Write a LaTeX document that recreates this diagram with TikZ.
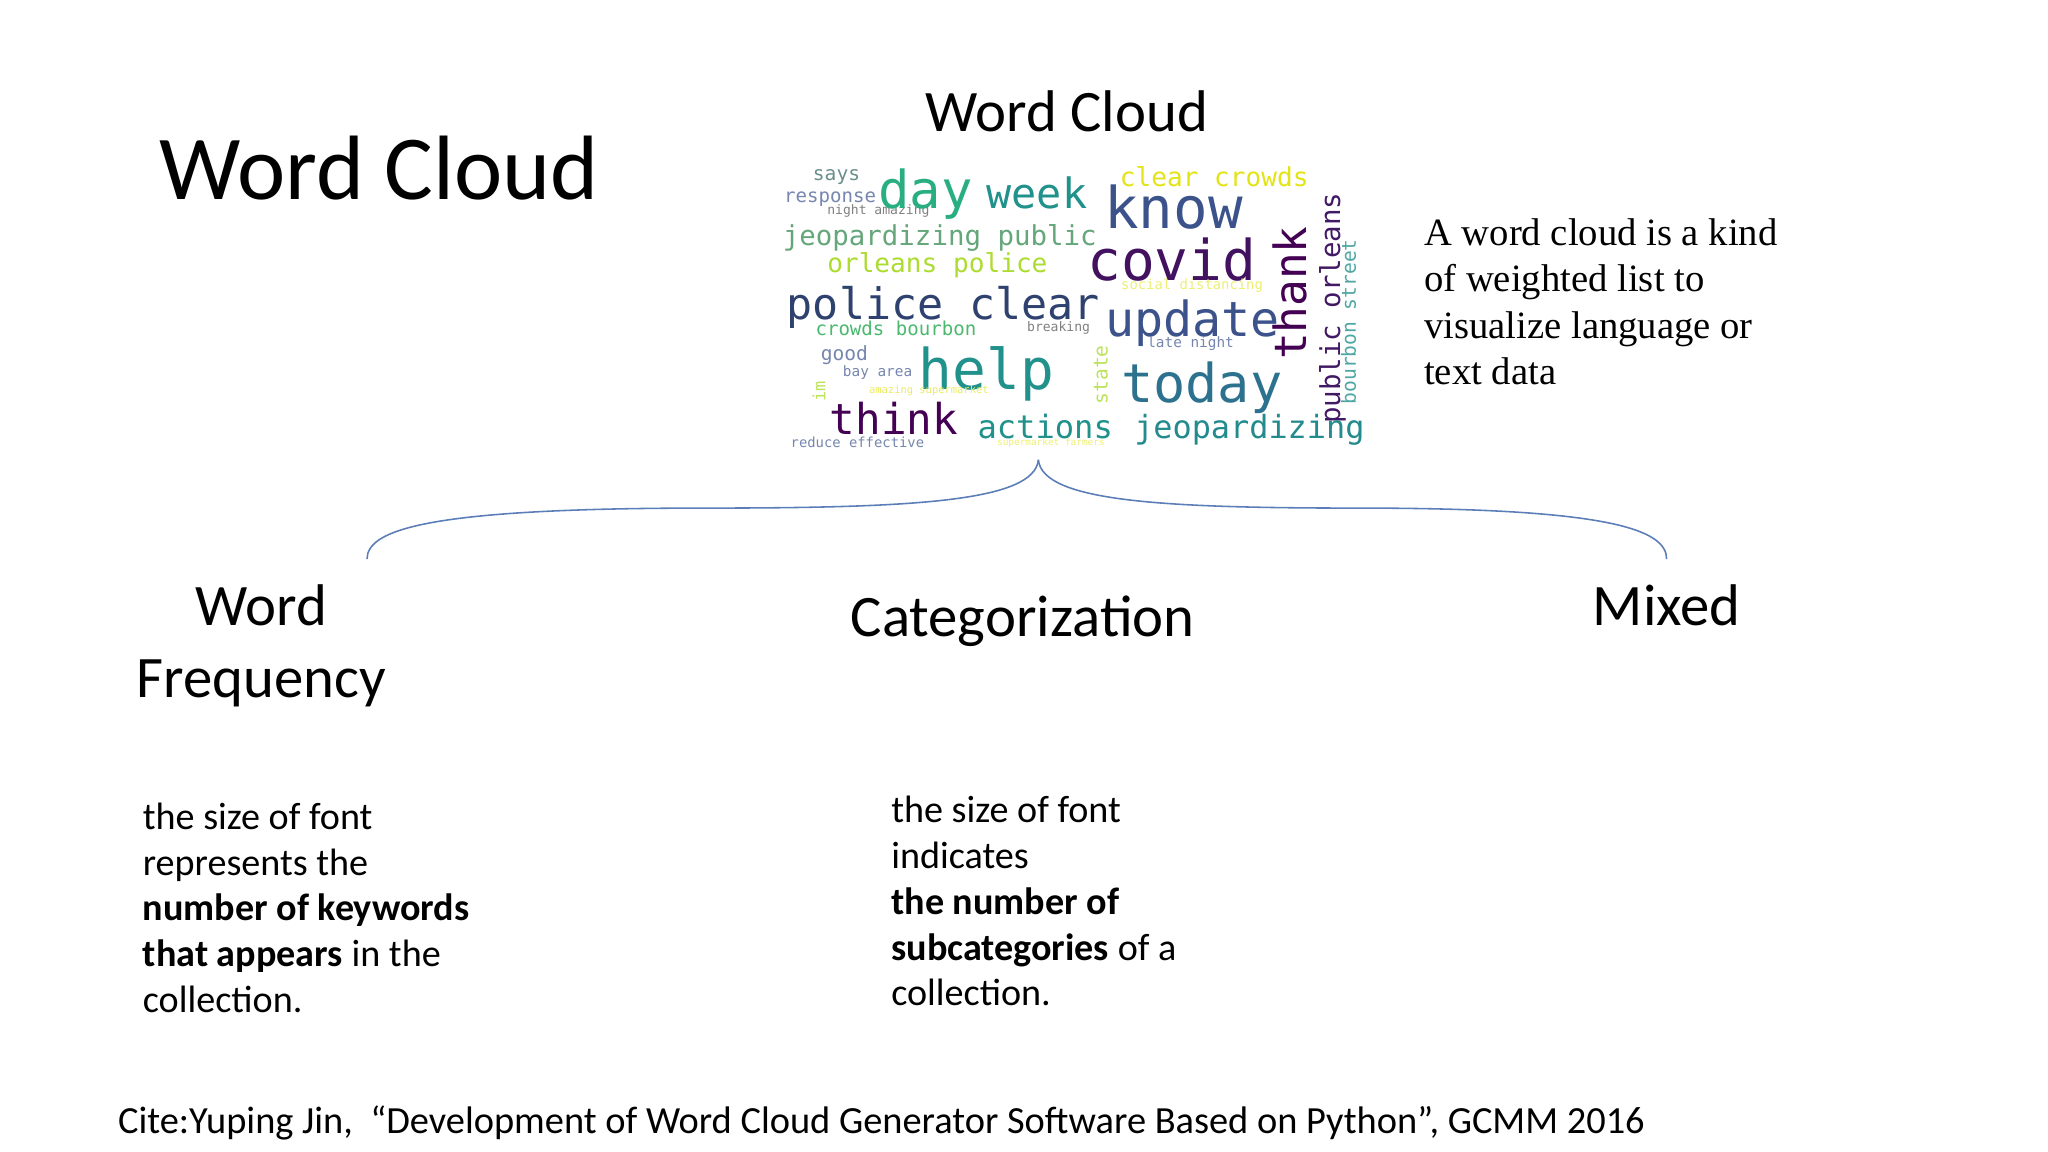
\documentclass[tikz,border=0pt]{standalone}
\usepackage{fontspec}
\setmainfont{Carlito}
\newfontfamily\serifr{Liberation Serif}
\newfontfamily\wc{DejaVu Sans Mono}
\definecolor{vA}{HTML}{440154}
\definecolor{vB}{HTML}{3B528B}
\definecolor{vC}{HTML}{2C728E}
\definecolor{vD}{HTML}{21918C}
\definecolor{vE}{HTML}{28AE80}
\definecolor{vF}{HTML}{5EC962}
\definecolor{vG}{HTML}{ADDC30}
\definecolor{vH}{HTML}{E3E418}
\definecolor{vS}{HTML}{6A8F8A}
\definecolor{brc}{HTML}{5B7DB8}
\newcommand{\fs}[1]{\fontsize{#1}{#1}\selectfont}
\begin{document}
\begin{tikzpicture}[x=0.5pt,y=-0.5pt,
  w/.style={anchor=base west,inner sep=0pt,font=\wc},
  rw/.style={anchor=base west,inner sep=0pt,font=\wc,rotate=90},
  ln/.style={anchor=base west,inner sep=0pt},
  hd/.style={anchor=base,inner sep=0pt,font=\fs{22.5}}]
\useasboundingbox (0,0) rectangle (1568,882);
\fill[white] (0,0) rectangle (1568,882);
\node[ln,font=\fs{35}] (title) at (122,153) {Word Cloud};
\node[hd] (sub) at (817,101) {Word Cloud};
% word cloud
\begin{scope}
\node[w,vS,font=\wc\fs{7.5}] (w1) at (622,138) {says};
\node[w,vB!70,font=\wc\fs{7.3}] (w2) at (600,155) {response};
\node[w,gray,font=\wc\fs{5}] (w3) at (633,164) {night amazing};
\node[w,vE,font=\wc\fs{20}] (w4) at (672,160) {day};
\node[w,vD,font=\wc\fs{16}] (w5) at (755,160) {week};
\node[w,vB,font=\wc\fs{22}] (w6) at (845,175) {know};
\node[w,vH,font=\wc\fs{10}] (w7) at (857,143) {clear crowds};
\node[w,vS!60!vF,font=\wc\fs{10.5}] (w8) at (599,188) {jeopardizing public};
\node[w,vG,font=\wc\fs{10}] (w9) at (633,209) {orleans police};
\node[w,vA!80!vB,font=\wc\fs{21.5}] (w10) at (832,215) {covid};
\node[w,vH!60,font=\wc\fs{5.3}] (w11) at (858,222) {social distancing};
\node[w,vB!80!black,font=\wc\fs{16.6}] (w12) at (602,245) {police clear};
\node[w,vB,font=\wc\fs{18.5}] (w13) at (846,258) {update};
\node[w,vF!70!vD,font=\wc\fs{7.3}] (w14) at (624,257) {crowds bourbon};
\node[w,gray,font=\wc\fs{5}] (w15) at (786,254) {breaking};
\node[w,vB!70,font=\wc\fs{7.5}] (w16) at (628,276) {good};
\node[w,vB!70,font=\wc\fs{5.5}] (w17) at (645,288) {bay area};
\node[w,vB!70,font=\wc\fs{5.5}] (w18) at (878,266) {late night};
\node[w,vD,font=\wc\fs{21.5}] (w19) at (703,298) {help};
\node[w,vC,font=\wc\fs{20.5}] (w20) at (858,308) {today};
\node[rw,vA,font=\wc\fs{17}] (w21) at (1000,276) {thank};
\node[rw,vA!70!vB,font=\wc\fs{10.5}] (w22) at (1026,325) {public orleans};
\node[rw,vD!80!white,font=\wc\fs{7.5}] (w23) at (1038,310) {bourbon street};
\node[rw,vG!80,font=\wc\fs{7.5}] (w24) at (848,310) {state};
\node[rw,vG!80,font=\wc\fs{6.5}] (w25) at (632,308) {im};
\node[w,vH!70,font=\wc\fs{4}] (w26) at (665,301) {amazing supermarket};
\node[w,vA,font=\wc\fs{16.3}] (w27) at (635,333) {think};
\node[w,vD,font=\wc\fs{12.3}] (w28) at (748,336) {actions};
\node[w,vD!80!vC,font=\wc\fs{12.2}] (w29) at (868,336) {jeopardizing};
\node[w,vB!70,font=\wc\fs{5.3}] (w30) at (605,343) {reduce effective};
\node[w,vH!60,font=\wc\fs{3.6}] (w31) at (763,341) {supermarket farmers};
\end{scope}
\coordinate (tip) at (795,352);
\coordinate (lend) at (281,428);
\coordinate (rend) at (1276,428);
\draw[brc,line width=0.6pt] (tip) .. controls (792,384) and (700,389) .. (540,389)
  .. controls (330,389) and (281,405) .. (lend);
\draw[brc,line width=0.6pt] (tip) .. controls (798,384) and (890,389) .. (1040,389)
  .. controls (1230,389) and (1276,405) .. (rend);
\node[hd] (wf1) at (200,479) {Word};
\node[hd] (wf2) at (200,534) {Frequency};
\node[hd] (cat) at (783,487) {Categorization};
\node[hd] (mix) at (1276,479) {Mixed};
\begin{scope}[every node/.style={ln,font=\serifr\fs{14.8}}]
\node (r1) at (1090,188) {A word cloud is a kind};
\node (r2) at (1090,223.5) {of weighted list to};
\node (r3) at (1090,259) {visualize language or};
\node (r4) at (1090,294.5) {text data};
\end{scope}
\begin{scope}[every node/.style={ln,font=\fs{14.6}}]
\node (a1) at (109,635) {the size of font};
\node (a2) at (109,670) {represents the};
\node (a3) at (109,705) {\textbf{number of keywords}};
\node (a4) at (109,740) {\textbf{that appears} in the};
\node (a5) at (109,775) {collection.};
\node (b1) at (682,630) {the size of font};
\node (b2) at (682,665) {indicates};
\node (b3) at (682,700) {\textbf{the number of}};
\node (b4) at (682,735) {\textbf{subcategories} of a};
\node (b5) at (682,770) {collection.};
\end{scope}
\node[ln,font=\fs{14.7}] (cite) at (90,868) {Cite:Yuping Jin,\ \ “Development of Word Cloud Generator Software Based on Python”, GCMM 2016};
\end{tikzpicture}
\end{document}
